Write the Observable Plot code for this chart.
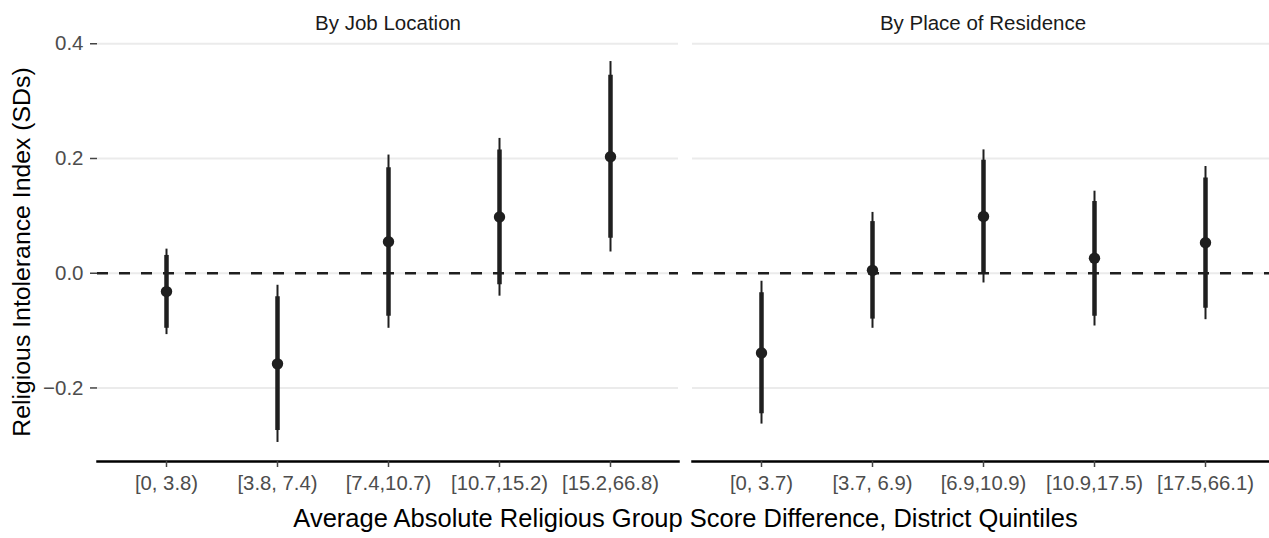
<!DOCTYPE html>
<html>
<head>
<meta charset="utf-8">
<script src="https://cdn.jsdelivr.net/npm/d3@7"></script>
<script src="https://cdn.jsdelivr.net/npm/@observablehq/plot@0.6"></script>
<style>
  html, body { margin: 0; padding: 0; background: #fff; overflow: hidden; }
</style>
</head>
<body>
<div id="chart"></div>
<script>
// ---- data ----
const panels = ["By Job Location", "By Place of Residence"];
const quintiles = [1, 2, 3, 4, 5];

const jobLabels = ["[0, 3.8)", "[3.8, 7.4)", "[7.4,10.7)", "[10.7,15.2)", "[15.2,66.8)"];
const resLabels = ["[0, 3.7)", "[3.7, 6.9)", "[6.9,10.9)", "[10.9,17.5)", "[17.5,66.1)"];

const jobEst  = [-0.032, -0.158,  0.055,  0.098, 0.203];
const jobLo90 = [-0.096, -0.274, -0.075, -0.020, 0.061];
const jobHi90 = [ 0.031, -0.041,  0.184,  0.215, 0.345];
const jobLo95 = [-0.107, -0.295, -0.096, -0.040, 0.037];
const jobHi95 = [ 0.042, -0.021,  0.206,  0.235, 0.369];

const resEst  = [-0.139,  0.005,  0.099,  0.026,  0.053];
const resLo90 = [-0.245, -0.080,  0.001, -0.075, -0.061];
const resHi90 = [-0.034,  0.090,  0.197,  0.125,  0.166];
const resLo95 = [-0.263, -0.096, -0.017, -0.092, -0.081];
const resHi95 = [-0.014,  0.106,  0.215,  0.143,  0.186];

const yTicks = [-0.2, 0, 0.2, 0.4];
const yTitle = "Religious Intolerance Index (SDs)";
const xTitle = "Average Absolute Religious Group Score Difference, District Quintiles";

// ---- build table ----
const series = [
  {panel: panels[0], labels: jobLabels, est: jobEst, lo90: jobLo90, hi90: jobHi90, lo95: jobLo95, hi95: jobHi95},
  {panel: panels[1], labels: resLabels, est: resEst, lo90: resLo90, hi90: resHi90, lo95: resLo95, hi95: resHi95}
];
const rows = [];
for (const s of series) {
  quintiles.forEach((q, i) => rows.push({
    panel: s.panel, q, label: s.labels[i],
    est: s.est[i], lo90: s.lo90[i], hi90: s.hi90[i], lo95: s.lo95[i], hi95: s.hi95[i]
  }));
}
const vals = rows.flatMap(d => [d.lo95, d.hi95, d.est]);
const yMin = d3.min(vals), yMax = d3.max(vals);
const pad = (yMax - yMin) * 0.05;

const ink = "#1f1f1f";

const chart = Plot.plot({
  width: 1269,
  height: 538,
  marginTop: 42,
  marginBottom: 77,
  marginLeft: 97,
  marginRight: -4,
  style: {fontFamily: '"Liberation Sans", Arial, Helvetica, sans-serif', background: "#fff", color: ink},
  fx: {domain: panels, paddingInner: 14 / 595, paddingOuter: 0},
  x: {type: "point", domain: quintiles, padding: 0.6},
  y: {domain: [yMin - pad, yMax + pad]},
  marks: [
    Plot.gridY(yTicks, {stroke: "#ebebeb", strokeOpacity: 1, strokeWidth: 2}),
    Plot.ruleY([0], {stroke: ink, strokeWidth: 2.7, strokeDasharray: "11,11"}),
    Plot.frame({anchor: "bottom", stroke: "#000", strokeWidth: 2.5}),
    Plot.axisY(yTicks, {tickFormat: d3.format(".1f"), tickSize: 7, tickPadding: 7, fontSize: 20.5,
      fill: "#4d4d4d", stroke: "#444", strokeWidth: 1.5, label: null}),
    Plot.axisY([], {label: yTitle, labelAnchor: "center", labelOffset: 85, labelArrow: "none",
      fontSize: 24.8, fill: "#000", tickSize: 0}),
    Plot.axisX(quintiles, {tickFormat: () => "", tickSize: 6, stroke: "#444", strokeWidth: 1.5, label: null}),
    Plot.text(rows, {fx: "panel", x: "q", frameAnchor: "bottom", lineAnchor: "top", dy: 14,
      text: "label", fontSize: 20.3, fill: "#4d4d4d"}),
    Plot.axisFx({anchor: "top", tickSize: 0, tickPadding: 13, fontSize: 20.5, fill: "#1a1a1a", label: null}),
    Plot.axisFx({anchor: "bottom", tickSize: 0, tickFormat: () => "", label: xTitle, labelAnchor: "center",
      labelOffset: 65, labelArrow: "none", fontSize: 25.5, fill: "#000"}),
    Plot.ruleX(rows, {fx: "panel", x: "q", y1: "lo95", y2: "hi95", stroke: ink, strokeWidth: 2}),
    Plot.ruleX(rows, {fx: "panel", x: "q", y1: "lo90", y2: "hi90", stroke: ink, strokeWidth: 4.5}),
    Plot.dot(rows, {fx: "panel", x: "q", y: "est", r: 5.7, fill: ink, stroke: "none"})
  ]
});
document.getElementById("chart").appendChild(chart);
</script>
</body>
</html>
